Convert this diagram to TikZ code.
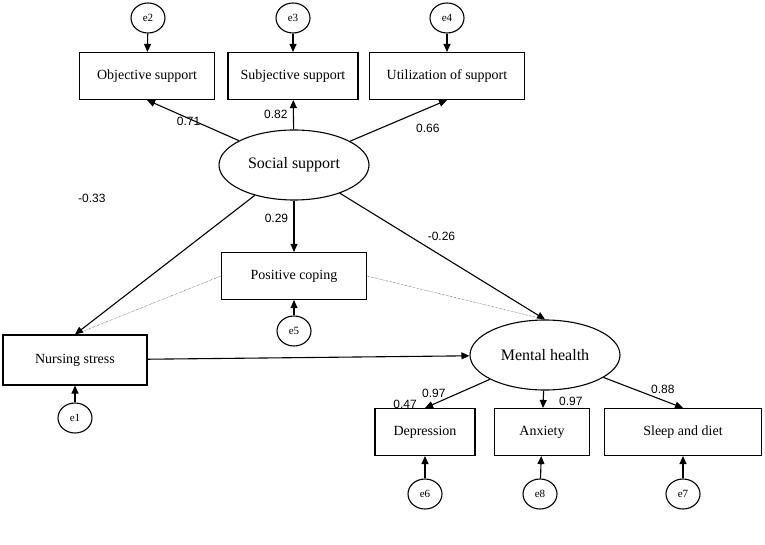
\documentclass[tikz,border=0pt]{standalone}
\usepackage{fontspec}
\setmainfont{Liberation Serif}
\newfontfamily\numfont{Liberation Sans}
\usetikzlibrary{arrows.meta,shapes.geometric}
\begin{document}
\begin{tikzpicture}[x=1pt,y=-1pt,line width=1.1pt,
  obs/.style = {draw,minimum height=47pt,font=\fontsize{14}{16}\selectfont},
  lat/.style = {draw,ellipse,minimum width=150pt,minimum height=70pt,font=\fontsize{16}{18}\selectfont},
  err/.style = {draw,ellipse,minimum width=34pt,minimum height=30pt,inner sep=0pt,font=\fontsize{11}{13}\selectfont},
  edge/.style = {-{Triangle[length=8pt,width=7pt]}},
  coef/.style = {font=\numfont\fontsize{12}{14}\selectfont}]
\useasboundingbox (0,0) rectangle (765,545);

\node[obs,minimum width=135pt] (O) at (147,76) {Objective support};
\node[obs,minimum width=130pt] (S) at (293,76) {Subjective support};
\node[obs,minimum width=155pt] (U) at (447,76) {Utilization of support};
\node[lat] (SS) at (294,165) {Social support};
\node[obs,minimum width=145pt] (PC) at (294,276) {Positive coping};
\node[obs,minimum width=144pt,minimum height=50pt] (NS) at (75,360) {Nursing stress};
\node[lat] (MH) at (545,355) {Mental health};
\node[obs,minimum width=100pt] (D) at (425,432) {Depression};
\node[obs,minimum width=95pt] (A) at (542,432) {Anxiety};
\node[obs,minimum width=157pt] (SD) at (683,432) {Sleep and diet};

\node[err] (e2) at (148,18) {e2};
\node[err] (e3) at (293,18) {e3};
\node[err] (e4) at (447,18) {e4};
\node[err] (e5) at (294,331) {e5};
\node[err] (e1) at (75,418) {e1};
\node[err] (e6) at (425,494) {e6};
\node[err] (e8) at (540,494) {e8};
\node[err] (e7) at (683,494) {e7};

\draw[edge] (e2) -- (O);
\draw[edge] (e3) -- (S);
\draw[edge] (e4) -- (U);
\draw[edge] (e5) -- (PC);
\draw[edge] (e1) -- (NS);
\draw[edge] (e6) -- (D);
\draw[edge] (e8) -- (A);
\draw[edge] (e7) -- (SD);

\draw[edge] (SS) -- (O.south) node[coef,pos=0.75,below right=3pt] {0.71};
\draw[edge] (SS) -- (S) node[coef,pos=0.5,left=2pt] {0.82};
\draw[edge] (SS) -- (U.south) node[coef,pos=0.6,below right=4pt] {0.66};
\draw[edge] (SS) -- (PC) node[coef,pos=0.35,left=2pt] {0.29};
\draw[edge] (SS) -- (NS.north) node[coef,pos=0.2,xshift=-127pt,yshift=25pt] {-0.33};
\draw[edge] (SS) -- (MH.north) node[coef,pos=0.3,xshift=40pt,yshift=-5pt] {-0.26};
\draw[edge] (NS) -- (MH) node[coef,pos=0.8,below=40pt] {0.47};
\draw[edge] (MH) -- (D.north) node[coef,pos=0.5,left=8pt] {0.97};
\draw[edge] (MH) -- (A) node[coef,pos=0.6,right=12pt] {0.97};
\draw[edge] (MH) -- (SD.north) node[coef,pos=0.4,right=12pt] {0.88};

\draw[densely dotted,thin] (PC.west) -- (NS.north);
\draw[densely dotted,thin] (PC.east) -- (MH.north);
\end{tikzpicture}
\end{document}
